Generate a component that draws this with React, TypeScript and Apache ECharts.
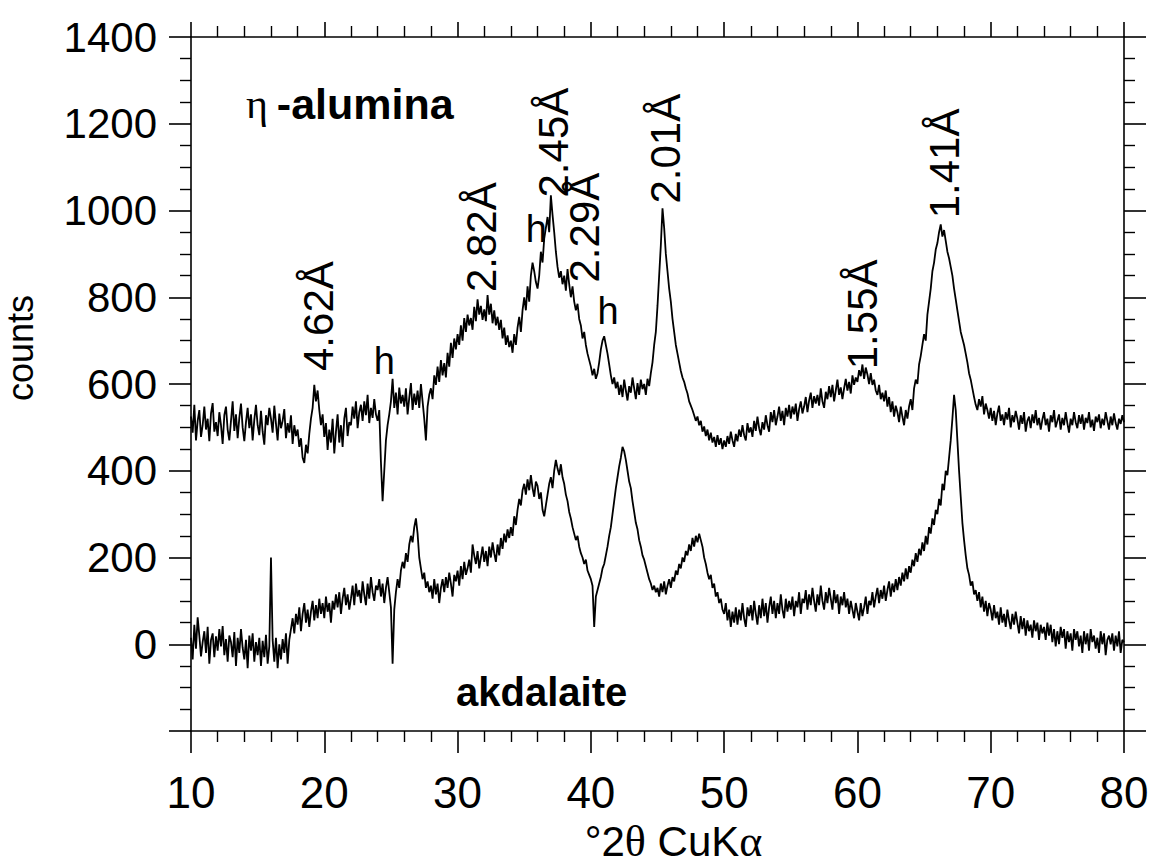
import React, { useEffect, useRef } from 'react';
import * as echarts from 'echarts';

// 2θ grid: starts at 10°, one reading every 0.125°
const X_START = 10;
const X_STEP = 0.125;

// η-alumina trace (counts), 10° → 80°, 8 readings per degree
const etaAlumina = [
  525, 488, 552, 470, 515, 540, 478, 505,
  548, 495, 520, 468, 532, 556, 490, 512,
  480, 535, 505, 462, 528, 548, 495, 470,
  515, 560, 492, 530, 475, 522, 555, 500,
  468, 512, 545, 498, 530, 470, 518, 552,
  505, 482, 538, 490, 460, 528, 505, 545,
  520, 488, 550, 508, 470, 532, 498, 515,
  542, 475, 510, 488, 528, 462, 505, 480,
  495, 455, 475, 430, 418, 460, 440, 485,
  520, 545, 598, 560, 585, 540, 505, 530,
  478, 510, 448, 495, 465, 520, 440, 490,
  530, 465, 505, 455, 520, 545, 480, 512,
  505, 548, 520, 560, 498, 535, 552, 515,
  560, 528, 575, 510, 545, 522, 565, 530,
  515, 540, 420, 330, 400, 470, 505, 530,
  560, 612, 545, 580, 530, 592, 555, 575,
  548, 590, 530, 568, 602, 540, 578, 552,
  585, 545, 600, 560, 520, 470, 548, 575,
  590, 565, 620, 598, 640, 605, 655, 620,
  648, 615, 672, 640, 695, 660, 705, 680,
  715, 690, 735, 700, 752, 720, 760, 735,
  752, 725, 778, 745, 795, 760, 780, 748,
  772, 745, 805, 760, 785, 740, 770, 735,
  755, 725, 748, 705, 730, 690, 712, 685,
  700, 672, 715, 690, 730, 755, 720, 770,
  800, 770, 825, 790, 850, 880, 860, 835,
  820, 850, 905, 880, 935, 960, 985, 950,
  1035, 990, 950, 905, 870, 845, 860, 830,
  850, 815, 865, 830, 800, 825, 790, 770,
  785, 750, 735, 705, 720, 690, 670, 655,
  640, 620, 635, 612, 625, 650, 680, 700,
  710, 690, 670, 645, 620, 600, 615, 590,
  605, 575, 598, 570, 610, 585, 562, 595,
  580, 615, 590, 565, 602, 575, 610, 588,
  600, 575, 612, 595, 625, 650, 690, 720,
  780, 850, 920, 1005, 960, 900, 860, 820,
  790, 750, 720, 690, 670, 650, 630, 615,
  605, 590, 578, 560, 550, 540, 528, 515,
  525, 505, 515, 490, 502, 480, 495, 470,
  488, 465, 478, 455, 482, 460, 475, 450,
  470, 455, 480, 462, 490, 470, 455, 485,
  468, 495, 478, 505, 482, 470, 510, 488,
  500, 478, 515, 492, 525, 498, 482, 512,
  495, 528, 505, 490, 535, 512, 540, 505,
  525, 548, 515, 538, 505, 545, 525, 552,
  520, 548, 530, 555, 515, 542, 560, 532,
  548, 570, 535, 562, 580, 545, 572, 555,
  575, 550, 590, 560, 545, 582, 565, 595,
  570, 598, 560, 585, 610, 575, 592, 565,
  590, 612, 585, 605, 578, 620, 598, 615,
  605, 632, 618, 645, 612, 638, 622, 600,
  625, 598, 610, 585, 575, 598, 565, 580,
  560, 585, 548, 570, 535, 560, 525, 550,
  535, 512, 548, 525, 505, 540, 520, 548,
  565, 540, 590, 610, 600, 645, 665, 690,
  715, 700, 760, 790, 820, 860, 880, 910,
  925, 950, 968, 940, 955, 930, 905, 890,
  870, 850, 820, 795, 770, 745, 720, 705,
  690, 670, 650, 625, 610, 590, 570, 552,
  540, 565, 548, 572, 530, 555, 540, 520,
  545, 515, 538, 505, 532, 550, 515, 530,
  505, 535, 518, 545, 500, 528, 512, 538,
  520, 495, 528, 508, 535, 490, 515, 525,
  498, 530, 510, 540, 505, 522, 495, 518,
  535, 505, 520, 490, 528, 512, 540, 500,
  515, 530, 495, 522, 505, 535, 510, 488,
  520, 505, 535, 512, 498, 528, 508, 530,
  495, 522, 510, 535, 500, 518, 492, 525,
  512, 530, 498, 520, 505, 535, 515, 495,
  525, 505, 532, 510, 495, 520, 508, 528,
  512,
];

// akdalaite trace (counts), 10° → 80°, 8 readings per degree
const akdalaite = [
  15, -35, 45, -10, 62, 20, -28, 5,
  30, -20, 40, -45, 10, 25, -30, 18,
  -15, 35, -5, 42, -25, 12, -40, 20,
  5, -30, 28, -50, 15, -20, 35, -8,
  -35, 10, -55, 20, -15, 25, -40, 5,
  -25, 15, -50, 8, -30, 22, -45, -5,
  200, 10, -40, 15, -55, 0, -35, 12,
  -20, 25, -45, 10, 35, 60, 25, 70,
  45, 85, 30, 70, 95, 50, 80, 40,
  75, 100, 55, 90, 60, 105, 70, 95,
  60, 110, 75, 95, 50, 100, 80, 115,
  85, 120, 70, 105, 130, 90, 115, 80,
  105, 135, 90, 140, 110, 125, 95, 145,
  115, 90, 140, 105, 155, 120, 100, 135,
  125, 150, 110, 140, 95, 130, 155, 120,
  85, -45, 80, 120, 150, 130, 170, 190,
  175, 210, 190, 230, 250, 235, 270, 290,
  255, 200, 175, 150, 165, 130, 145, 120,
  135, 105, 150, 115, 140, 95, 130, 150,
  120, 155, 130, 165, 140, 110, 160, 145,
  170, 135, 180, 150, 190, 160, 175, 195,
  165, 230, 205, 185, 215, 175, 200, 225,
  190, 215, 180, 225, 200, 235, 210, 190,
  230, 205, 245, 220, 255, 235, 265, 245,
  270, 250, 295, 275, 310, 335, 320, 355,
  370, 345, 380, 355, 390, 360, 340, 375,
  365, 335, 350, 310, 295, 320, 345, 370,
  385, 360, 400, 425, 405, 390, 415, 385,
  370, 345, 330, 305, 290, 270, 255, 240,
  250, 225, 210, 200, 185, 195, 170, 160,
  150, 135, 40, 110, 125, 140, 155, 175,
  185, 205, 225, 250, 270, 300, 330, 360,
  385, 410, 430, 455, 445, 425, 400, 375,
  360, 330, 305, 280, 265, 240, 225, 205,
  195, 180, 165, 150, 140, 125, 135, 120,
  130, 110, 140, 120, 145, 115, 135, 150,
  130, 155, 145, 170, 160, 185, 175, 200,
  190, 215, 205, 230, 215, 245, 225, 250,
  235, 255, 240, 225, 200, 185, 165, 150,
  160, 130, 140, 110, 120, 95, 105, 80,
  70, 95, 55, 80, 40, 75, 50, 85,
  45, 80, 55, 95, 60, 40, 85, 65,
  90, 55, 100, 70, 45, 90, 60, 105,
  65, 95, 50, 85, 110, 70, 100, 60,
  95, 70, 115, 80, 60, 105, 75, 100,
  80, 110, 65, 100, 85, 120, 70, 105,
  95, 125, 80, 115, 90, 130, 100, 75,
  115, 90, 135, 100, 80, 120, 95, 130,
  105, 80, 125, 95, 115, 70, 110, 90,
  120, 85, 105, 70, 100, 80, 60, 95,
  75, 55, 95, 65, 85, 110, 70, 100,
  90, 120, 85, 110, 130, 95, 125, 105,
  135, 100, 125, 145, 110, 140, 120, 150,
  125, 155, 135, 165, 145, 175, 150, 180,
  165, 195, 180, 210, 190, 220, 205, 235,
  215, 250, 230, 270, 255, 290, 275, 310,
  300, 335, 320, 370, 355, 400, 390, 430,
  470, 520, 575, 540, 470, 400, 340, 280,
  240, 205, 175, 160, 135, 145, 115, 125,
  100, 120, 85, 110, 75, 100, 65, 95,
  80, 55, 90, 60, 75, 45, 85, 50,
  70, 40, 80, 55, 35, 70, 45, 75,
  50, 25, 65, 35, 60, 20, 55, 30,
  45, 15, 55, 30, 50, 10, 45, 25,
  40, 10, 50, 20, 45, 5, 35, -5,
  30, 0, 40, 15, 35, -10, 30, 5,
  25, -15, 35, 10, 30, -5, 20, -20,
  30, 0, 25, -15, 35, 5, 20, -10,
  15, -20, 30, 0, 25, -25, 10, 20,
  0, 25, -15, 20, -5, 30, -20, 10,
  5,
];

// d-spacing annotations (anchored at the foot of the rotated text, data coords)
const peakLabels = [
  { text: '4.62Å', x: 19.6, y: 630 },
  { text: '2.82Å', x: 31.8, y: 812 },
  { text: '2.45Å', x: 37.2, y: 1030 },
  { text: '2.29Å', x: 39.5, y: 834 },
  { text: '2.01Å', x: 45.6, y: 1016 },
  { text: '1.55Å', x: 60.4, y: 634 },
  { text: '1.41Å', x: 66.5, y: 982 },
];
const hLabels = [
  { text: 'h', x: 24.5, y: 652 },
  { text: 'h', x: 35.9, y: 958 },
  { text: 'h', x: 41.3, y: 768 },
];

const SANS = '"Liberation Sans", Arial, Helvetica, sans-serif';
const SERIF = '"Liberation Serif", "DejaVu Serif", serif';

export default function App() {
  const ref = useRef<HTMLDivElement>(null);
  useEffect(() => {
    document.body.style.margin = '0';
    const chart = echarts.init(ref.current!, null, { renderer: 'svg' });
    const toPairs = (arr: number[]) => arr.map((v, i) => [X_START + i * X_STEP, v]);
    const axisLine = { show: true, onZero: false, lineStyle: { color: '#000', width: 1.6 } };
    const tickStyle = { color: '#000', width: 1.6 };
    const minorStyle = { color: '#000', width: 1.4 };
    chart.setOption({
      animation: false,
      backgroundColor: '#fff',
      grid: { left: 191, right: 34, top: 37, bottom: 135, containLabel: false, outerBoundsMode: 'none' },
      xAxis: [
        {
          type: 'value', min: 10, max: 80, interval: 10, position: 'bottom',
          axisLine,
          axisTick: { show: true, inside: false, length: 22, lineStyle: tickStyle },
          minorTick: { show: true, splitNumber: 5, length: 11, lineStyle: minorStyle },
          splitLine: { show: false },
          axisLabel: { fontSize: 44, color: '#000', fontFamily: SANS, margin: 39 },
          name: '{a|°2}{g|θ}{a| CuK}{g|α}',
          nameLocation: 'middle', nameGap: 88,
          nameTextStyle: {
            padding: [0, 0, 0, 32],
            rich: {
              a: { fontSize: 42, fontFamily: SANS, color: '#000' },
              g: { fontSize: 44, fontFamily: SERIF, color: '#000' },
            },
          },
        },
        {
          type: 'value', min: 10, max: 80, interval: 10, position: 'top',
          axisLine,
          axisTick: { show: true, inside: false, length: 15, lineStyle: tickStyle },
          minorTick: { show: true, splitNumber: 5, length: 11, lineStyle: minorStyle },
          splitLine: { show: false },
          axisLabel: { show: false },
        },
      ],
      yAxis: [
        {
          type: 'value', min: -200, max: 1400, interval: 200, position: 'left',
          axisLine,
          axisTick: { show: true, inside: false, length: 22, lineStyle: tickStyle },
          minorTick: { show: true, splitNumber: 4, length: 11, lineStyle: minorStyle },
          splitLine: { show: false },
          axisLabel: {
            fontSize: 42, color: '#000', fontFamily: SANS, margin: 34,
            formatter: (v: number) => (v === -200 ? '' : String(v)),
          },
        },
        {
          type: 'value', min: -200, max: 1400, interval: 200, position: 'right',
          axisLine,
          axisTick: { show: true, inside: false, length: 22, lineStyle: tickStyle },
          minorTick: { show: true, splitNumber: 4, length: 11, lineStyle: minorStyle },
          splitLine: { show: false },
          axisLabel: { show: false },
        },
      ],
      series: [
        {
          name: 'η-alumina', type: 'line', data: toPairs(etaAlumina), showSymbol: false,
          lineStyle: { color: '#000', width: 1.8 }, xAxisIndex: 0, yAxisIndex: 0,
        },
        {
          name: 'akdalaite', type: 'line', data: toPairs(akdalaite), showSymbol: false,
          lineStyle: { color: '#000', width: 1.8 }, xAxisIndex: 0, yAxisIndex: 0,
        },
      ],
    });

    const graphics: any[] = [];
    peakLabels.forEach((p) => {
      const [px, py] = chart.convertToPixel({ seriesIndex: 0 }, [p.x, p.y]) as number[];
      graphics.push({
        type: 'text', x: px, y: py, rotation: Math.PI / 2,
        style: { text: p.text, fontSize: 42, fontFamily: SANS, fill: '#000', align: 'left', verticalAlign: 'middle' },
      });
    });
    hLabels.forEach((p) => {
      const [px, py] = chart.convertToPixel({ seriesIndex: 0 }, [p.x, p.y]) as number[];
      graphics.push({
        type: 'text', x: px, y: py,
        style: { text: p.text, fontSize: 38, fontFamily: SANS, fill: '#000', align: 'center', verticalAlign: 'middle' },
      });
    });
    // y-axis title
    graphics.push({
      type: 'text', x: 20, y: 348, rotation: Math.PI / 2,
      style: { text: 'counts', fontSize: 36, fontFamily: SANS, fill: '#000', align: 'center', verticalAlign: 'middle' },
    });
    graphics.push({
      type: 'text', left: 246, top: 82,
      style: {
        text: '{g|η}{s| }{b|-alumina}',
        rich: {
          g: { fontSize: 42, fontFamily: SERIF, fill: '#000' },
          s: { fontSize: 32, fontFamily: SANS, fill: '#000' },
          b: { fontSize: 43, fontFamily: SANS, fontWeight: 'bold', fill: '#000' },
        },
      },
    });
    graphics.push({
      type: 'text', left: 456, top: 672,
      style: { text: 'akdalaite', fontSize: 40, fontFamily: SANS, fontWeight: 'bold', fill: '#000' },
    });
    chart.setOption({ graphic: graphics });

    return () => chart.dispose();
  }, []);
  return <div ref={ref} style={{ width: 1158, height: 866 }} />;
}
